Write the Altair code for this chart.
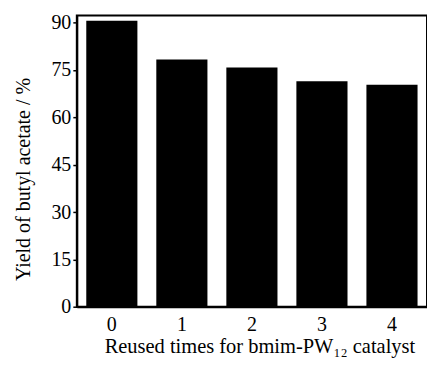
import altair as alt
import pandas as pd

reuse_times = ["0", "1", "2", "3", "4"]
yield_values = [90.6, 78.3, 75.8, 71.4, 70.3]

df = pd.DataFrame({"times": reuse_times, "yield": yield_values})

FONT = "Liberation Serif"

chart = alt.Chart(df).mark_bar(color="black").encode(
    x=alt.X(
        "times:N",
        sort=reuse_times,
        scale=alt.Scale(paddingInner=0.27, paddingOuter=0.135),
        axis=alt.Axis(
            title="Reused times for bmim-PW₁₂ catalyst",
            labelAngle=0,
            ticks=False,
            tickSize=0,
            labelPadding=8,
            domainColor="black",
            domainWidth=2,
            labelFont=FONT,
            labelFontSize=20,
            labelColor="black",
            titleFont=FONT,
            titleFontSize=20.5,
            titleFontWeight="normal",
            titleColor="black",
            titleX=183,
            titleY=46,
            titleBaseline="alphabetic",
        ),
    ),
    y=alt.Y(
        "yield:Q",
        scale=alt.Scale(domain=[0, 92.3], nice=False),
        axis=alt.Axis(
            title="Yield of butyl acetate / %",
            values=[0, 15, 30, 45, 60, 75, 90],
            grid=False,
            tickSize=4,
            tickWidth=1.5,
            tickColor="black",
            labelPadding=2,
            domainColor="black",
            domainWidth=2,
            labelFont=FONT,
            labelFontSize=20,
            labelColor="black",
            titleFont=FONT,
            titleFontSize=20,
            titleFontWeight="normal",
            titleColor="black",
            titleX=-47,
            titleY=164,
            titleBaseline="alphabetic",
        ),
    ),
).properties(
    width=351,
    height=292,
    autosize=alt.AutoSizeParams(type="none"),
    padding={"left": 77, "top": 15, "right": 0, "bottom": 58},
).configure(
    background="white",
    view=alt.ViewConfig(stroke="black", strokeWidth=2),
)

chart.save("out.html", embed_options={"renderer": "svg", "actions": False})
